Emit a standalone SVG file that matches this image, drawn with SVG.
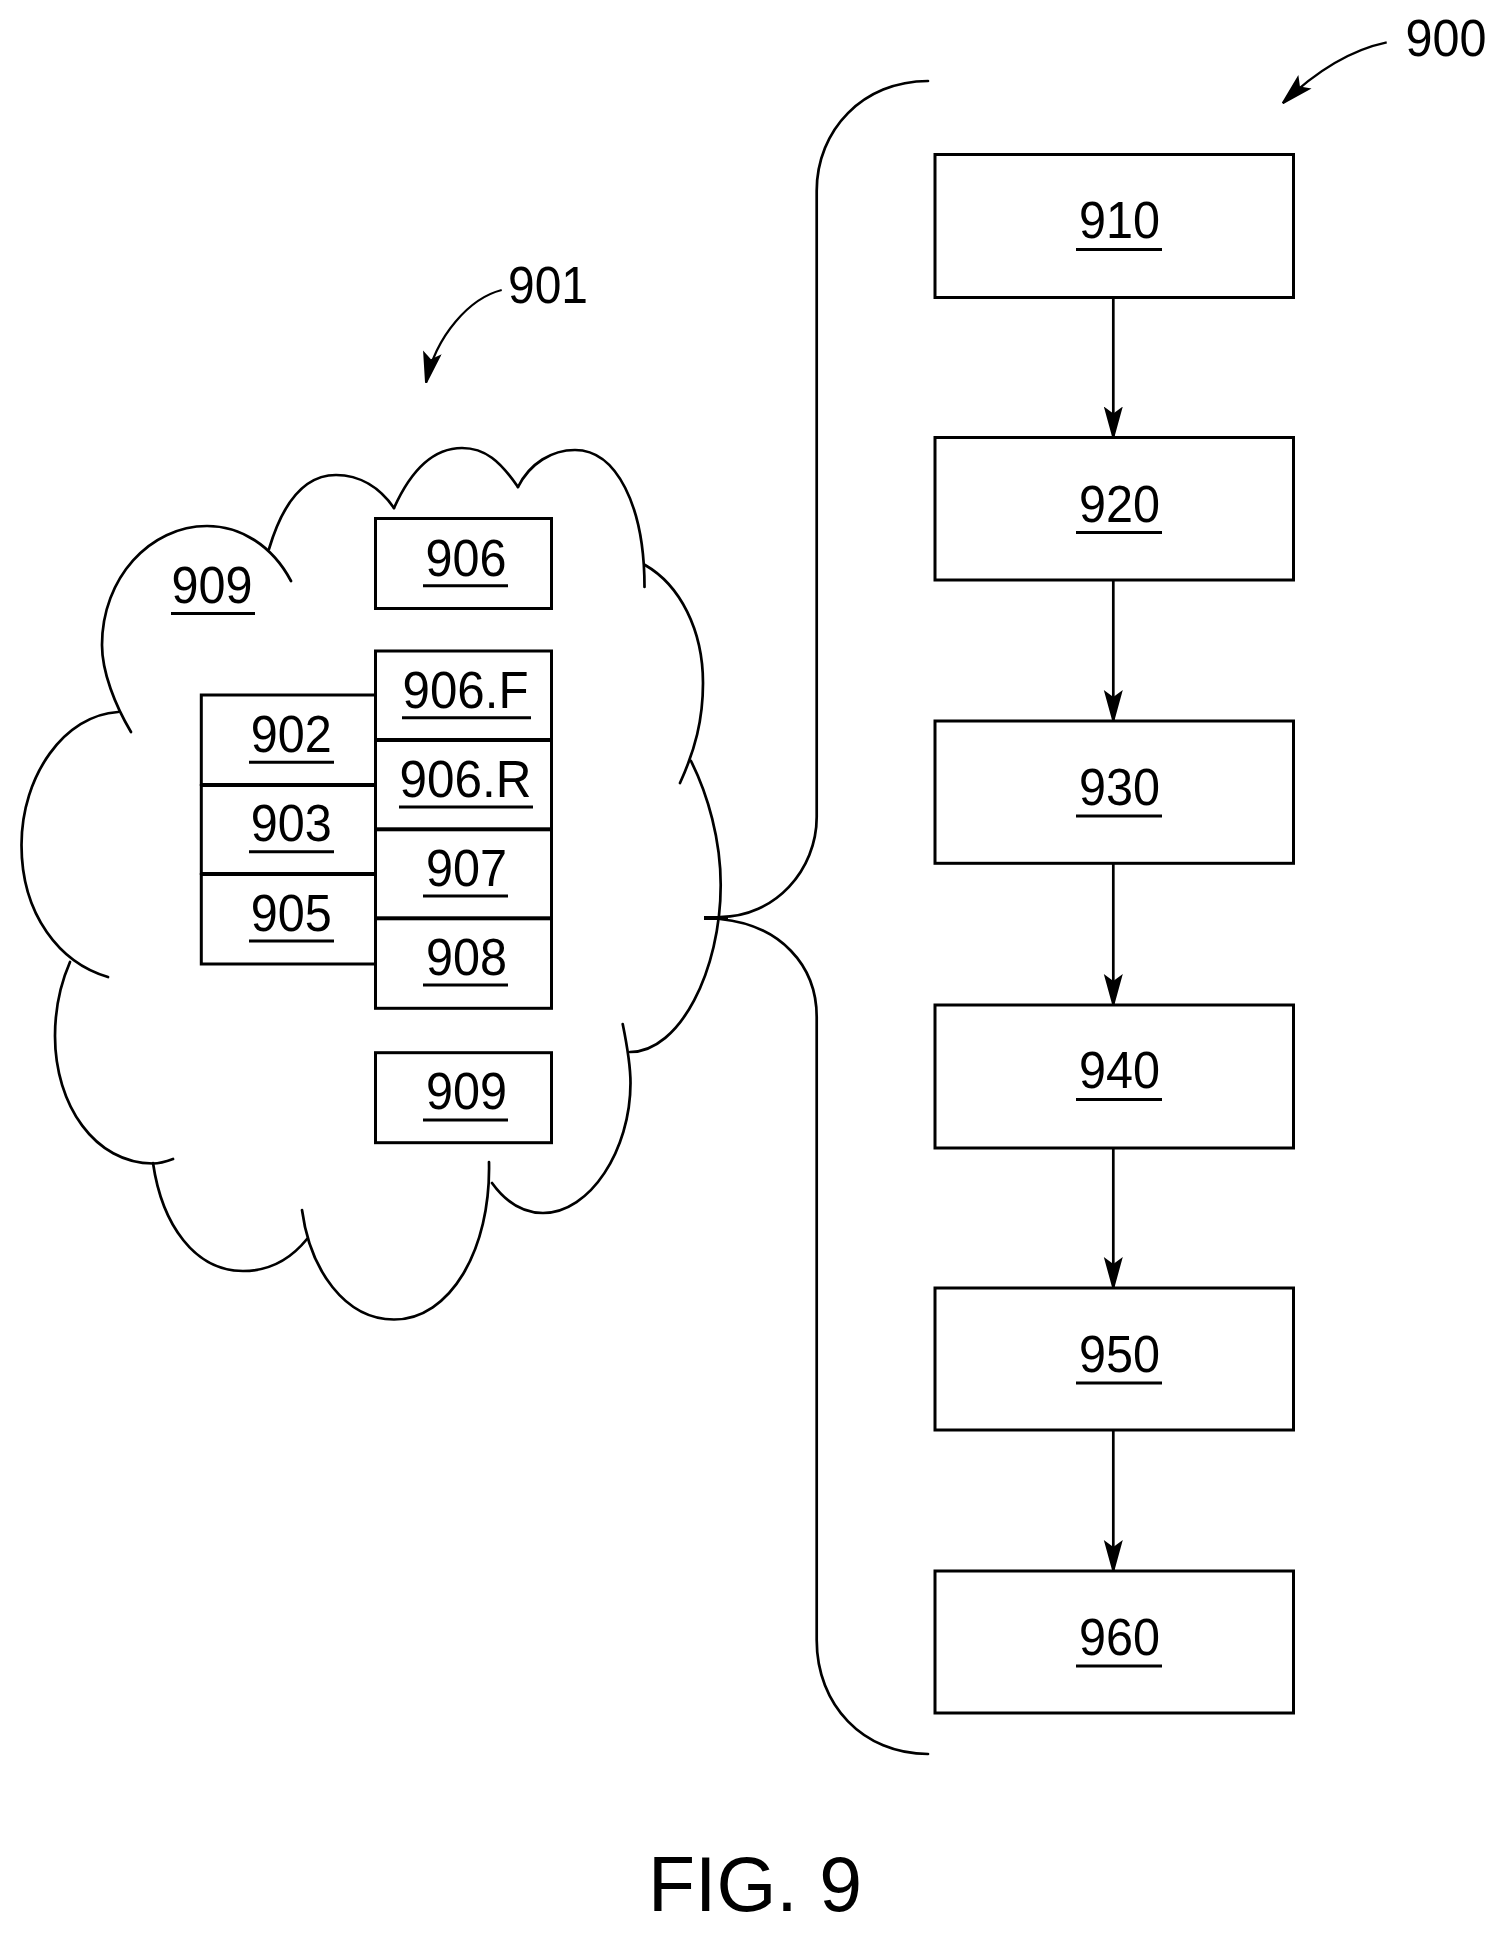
<svg xmlns="http://www.w3.org/2000/svg" width="1505" height="1935" viewBox="0 0 1505 1935">
<style>
.b{fill:none;stroke:#000;stroke-width:3}
.l{fill:none;stroke:#000;stroke-width:2.7}
.t{fill:none;stroke:#000;stroke-width:2.2}
.c{fill:none;stroke:#000;stroke-width:2.7;stroke-linecap:round}
.a{marker-end:url(#h)}
.u{stroke:#000;stroke-width:3}
text{font-family:"Liberation Sans",Arial,sans-serif;font-size:52px;fill:#000;text-anchor:middle}
</style>
<defs>
<marker id="h" markerUnits="userSpaceOnUse" markerWidth="34" markerHeight="22" refX="31" refY="9.500" orient="auto">
<path d="M0,0 L31,8.500 L31,10.500 L0,19 L7,9.500 Z" fill="#000"/>
</marker>
</defs>
<rect width="1505" height="1935" fill="#fff"/>
<g id="cloud">
<path class="c" d="M131,732 C115,705 102,672 102,645 C102,578 150,526 207,526 C240,526 272,545 291,581"/>
<path class="c" d="M269,549 C283,502 305,475 336,475 C360,475 380,488 394,508"/>
<path class="c" d="M394,508 C412,468 435,448 462,448 C485,448 500,461 518,487"/>
<path class="c" d="M518,487 C530,463 552,450 575,450 C616,450 644.500,505 644.500,587"/>
<path class="c" d="M645,565 C680,585 703,630 703,683 C703,720 695,750 680,783"/>
<path class="c" d="M691,761 C708,795 720.700,840 720.700,885 C720.700,970 680,1052 630,1052"/>
<path class="c" d="M622.700,1024 C628,1050 630.500,1065 630.500,1083 C630.500,1150 590,1213 543,1213 C522,1213 505,1201 492,1183"/>
<path class="c" d="M489,1162 C491,1250 450,1319.500 394,1319.500 C345,1319.500 310,1270 302,1210"/>
<path class="c" d="M307,1239 C290,1260 268,1271 243,1271 C195,1271 162,1225 153,1163"/>
<path class="c" d="M173,1159 C165,1162 160,1163.500 153,1163.500 C95,1163.500 55,1105 55,1036 C55,1010 60,985 70,962"/>
<path class="c" d="M108,977 C60,963 21.500,915 21.500,845 C21.500,775 65,715 118,712"/>
<text x="212" y="603" textLength="81" lengthAdjust="spacingAndGlyphs">909</text><line class="u" x1="171" y1="613.500" x2="255" y2="613.500"/>
</g>
<g id="brace">
<path class="c" d="M928,81 C863,81 816.700,130 816.700,191 L816.700,817 C816.700,870 775,917 720,917"/>
<path class="c" d="M720,919 C780,925 816.700,965 816.700,1017 L816.700,1640 C816.700,1705 863,1754 928,1754"/>
<line x1="704" y1="918" x2="728" y2="918" stroke="#000" stroke-width="4"/>
</g>
<g id="n906"><rect class="b" x="375.500" y="518.500" width="176" height="90"/><text x="466" y="576" textLength="81" lengthAdjust="spacingAndGlyphs">906</text><line class="u" x1="423" y1="585.700" x2="508" y2="585.700"/></g>
<g id="n906F"><rect class="b" x="375.500" y="651" width="176" height="88.500"/><text x="465.500" y="707.500" textLength="126" lengthAdjust="spacingAndGlyphs">906.F</text><line class="u" x1="402" y1="717.700" x2="531" y2="717.700"/></g>
<g id="n906R"><rect class="b" x="375.500" y="740.500" width="176" height="88.300"/><text x="465.500" y="796.500" textLength="132" lengthAdjust="spacingAndGlyphs">906.R</text><line class="u" x1="399" y1="807" x2="533" y2="807"/></g>
<g id="n907"><rect class="b" x="375.500" y="829.800" width="176" height="88"/><text x="466.500" y="885.500" textLength="81" lengthAdjust="spacingAndGlyphs">907</text><line class="u" x1="423" y1="896" x2="508" y2="896"/></g>
<g id="n908"><rect class="b" x="375.500" y="918.800" width="176" height="89.500"/><text x="466.500" y="974.500" textLength="81" lengthAdjust="spacingAndGlyphs">908</text><line class="u" x1="423" y1="985" x2="508" y2="985"/></g>
<g id="n909"><rect class="b" x="375.500" y="1052.700" width="176" height="90"/><text x="466.500" y="1109.300" textLength="81" lengthAdjust="spacingAndGlyphs">909</text><line class="u" x1="423" y1="1120" x2="508" y2="1120"/></g>
<g id="n902"><rect class="b" x="201.300" y="695" width="174.200" height="89.500"/><text x="291.300" y="751.700" textLength="81" lengthAdjust="spacingAndGlyphs">902</text><line class="u" x1="249" y1="762.300" x2="334" y2="762.300"/></g>
<g id="n903"><rect class="b" x="201.300" y="785.500" width="174.200" height="88"/><text x="291.300" y="841" textLength="81" lengthAdjust="spacingAndGlyphs">903</text><line class="u" x1="249" y1="851.700" x2="334" y2="851.700"/></g>
<g id="n905"><rect class="b" x="201.300" y="874.500" width="174.200" height="89.500"/><text x="291.300" y="930.500" textLength="81" lengthAdjust="spacingAndGlyphs">905</text><line class="u" x1="249" y1="941" x2="334" y2="941"/></g>
<g id="n910"><rect class="b" x="935" y="154.500" width="358.500" height="143"/><text x="1119.500" y="238" textLength="81" lengthAdjust="spacingAndGlyphs">910</text><line class="u" x1="1076" y1="249.500" x2="1162" y2="249.500"/></g>
<g id="n920"><rect class="b" x="935" y="437.500" width="358.500" height="142.500"/><text x="1119.500" y="521.500" textLength="81" lengthAdjust="spacingAndGlyphs">920</text><line class="u" x1="1076" y1="532.500" x2="1162" y2="532.500"/></g>
<g id="n930"><rect class="b" x="935" y="721" width="358.500" height="142.300"/><text x="1119.500" y="805" textLength="81" lengthAdjust="spacingAndGlyphs">930</text><line class="u" x1="1076" y1="816" x2="1162" y2="816"/></g>
<g id="n940"><rect class="b" x="935" y="1005" width="358.500" height="143"/><text x="1119.500" y="1088" textLength="81" lengthAdjust="spacingAndGlyphs">940</text><line class="u" x1="1076" y1="1099.500" x2="1162" y2="1099.500"/></g>
<g id="n950"><rect class="b" x="935" y="1288" width="358.500" height="142"/><text x="1119.500" y="1371.500" textLength="81" lengthAdjust="spacingAndGlyphs">950</text><line class="u" x1="1076" y1="1383" x2="1162" y2="1383"/></g>
<g id="n960"><rect class="b" x="935" y="1571" width="358.500" height="142"/><text x="1119.500" y="1655" textLength="81" lengthAdjust="spacingAndGlyphs">960</text><line class="u" x1="1076" y1="1666" x2="1162" y2="1666"/></g>
<g id="connectors">
<line class="l a" x1="1113.300" y1="297" x2="1113.300" y2="437.500"/>
<line class="l a" x1="1113.300" y1="580" x2="1113.300" y2="721"/>
<line class="l a" x1="1113.300" y1="863" x2="1113.300" y2="1005"/>
<line class="l a" x1="1113.300" y1="1148" x2="1113.300" y2="1288"/>
<line class="l a" x1="1113.300" y1="1430" x2="1113.300" y2="1571"/>
<path class="t a" d="M1386.700,42.300 C1350,50 1315,72 1282.700,103.300"/>
<path class="t a" d="M501.700,290 C470,298 436,335 426,382.700"/>
</g>
<g id="labels">
<text x="1446" y="55.500" textLength="81" lengthAdjust="spacingAndGlyphs">900</text>
<text x="548" y="302.500" textLength="80" lengthAdjust="spacingAndGlyphs">901</text>
<text x="755" y="1911" style="font-size:77px">FIG. 9</text>
</g>
</svg>
